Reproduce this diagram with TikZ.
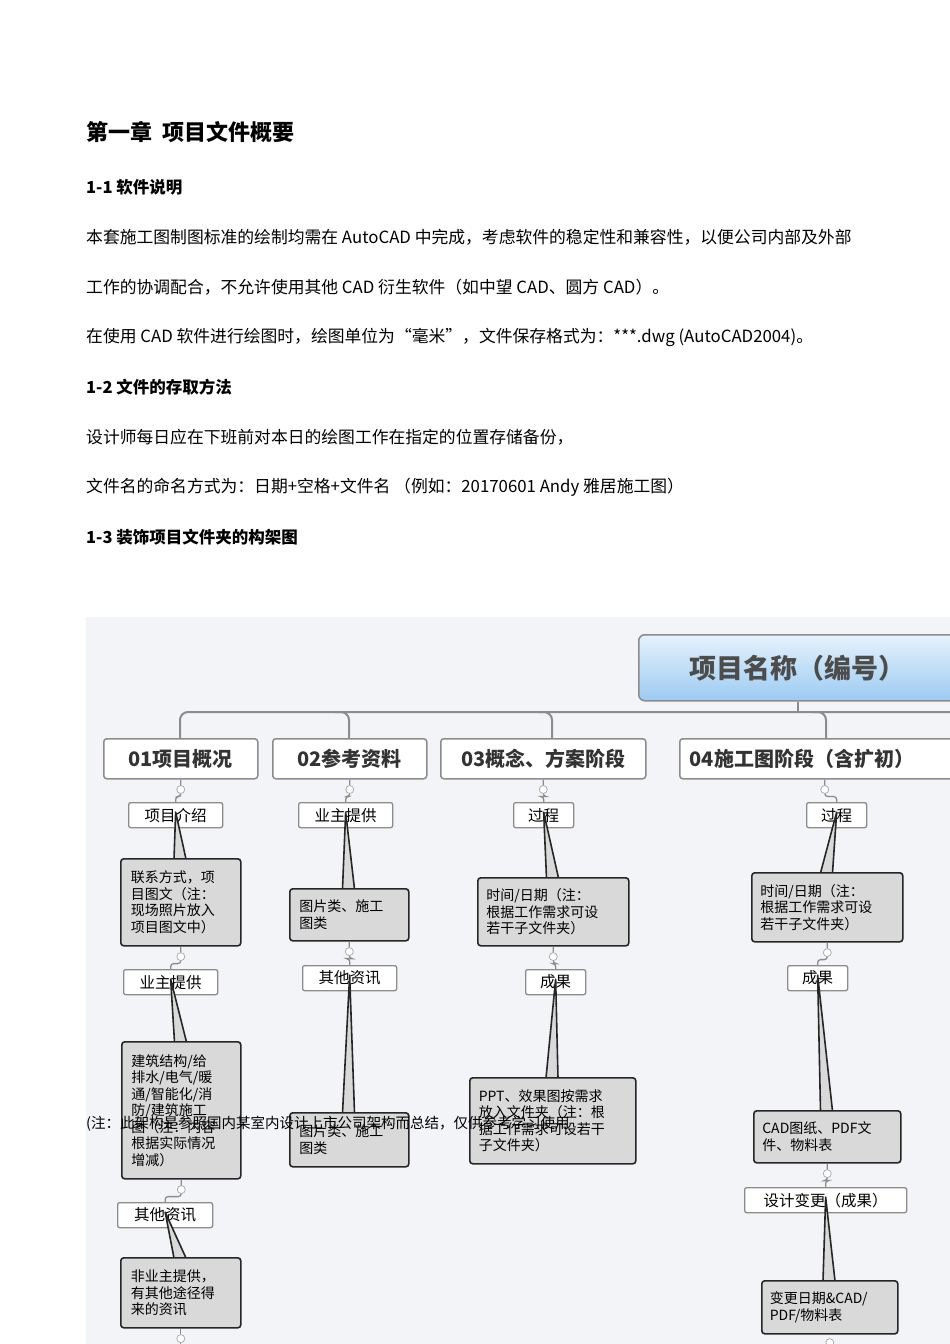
\documentclass[tikz,border=0pt]{standalone}
\usepackage{fontspec}
\setmainfont{Noto Sans CJK SC}
\usetikzlibrary{calc}
\definecolor{bgc}{HTML}{F3F4F8}
\definecolor{gfill}{HTML}{D9D9D9}
\definecolor{lin}{HTML}{8C8C8C}
\definecolor{rootA}{HTML}{E6F2FC}
\definecolor{rootB}{HTML}{9CCAF2}
\tikzset{
 lab/.style={draw=lin,fill=white,line width=1.3pt,rounded corners=2pt,inner sep=0pt,font=\fontsize{15.5}{17}\selectfont},
 gbox/.style={draw=black!85,fill=gfill,line width=1.6pt,rounded corners=3pt,inner sep=0pt,align=left,font=\fontsize{14}{16.5}\selectfont},
 lvl/.style={draw=lin,fill=white,line width=1.5pt,rounded corners=3pt,inner sep=0pt,font=\fontsize{20}{22}\selectfont\bfseries,text=black!80},
 tail/.style={draw=black!85,fill=gfill,line width=1.6pt,line join=round},
 conn/.style={draw=lin,line width=2pt},
 knob/.style={circle,draw=lin!70,fill=white,line width=0.8pt,inner sep=0pt,minimum size=8pt},
 ptext/.style={anchor=west,inner sep=0pt,font=\fontsize{16.8}{18}\selectfont},
}
\newcommand\LB[6]{\node[lab,anchor=north west,minimum width=#4pt-#2pt,minimum height=#5pt-#3pt] (#1) at (#2,#3) {#6};}
\newcommand\LV[6]{\node[lvl,anchor=north west,minimum width=#4pt-#2pt,minimum height=#5pt-#3pt] (#1) at (#2,#3) {#6};}
\newcommand\GB[8]{%
 \path (#3+#5/2,#4) coordinate (#1top);
 \path[tail] ($(#2.center)+(0,-3)$) -- ($(#1top)+(-6,1)$) -- ($(#1top)+(6,1)$) -- cycle;
 \node[gbox,anchor=north west,minimum width=#5pt,minimum height=#6pt,text width=#7pt] (#1) at (#3,#4) {#8};}
\newcommand\KN[3]{\draw[lin,line width=1.3pt,rounded corners=3pt] (#1.south) -- ++(0,17) -| (#2.north); \node[knob] (#3) at ($(#1.south)+(0,10)$) {};}
\begin{document}
\begin{tikzpicture}[x=1pt,y=-1pt]
\useasboundingbox (0,0) rectangle (950,1344);
\fill[white] (0,0) rectangle (950,1344);
\node[ptext,font=\fontsize{22}{24}\selectfont\bfseries] (t0) at (86,132) {第一章\ \ 项目文件概要};
\node[ptext,font=\fontsize{16.5}{18}\selectfont\bfseries] (t1) at (86,187) {1-1 软件说明};
\node[ptext] (t2) at (86,237) {本套施工图制图标准的绘制均需在 AutoCAD 中完成，考虑软件的稳定性和兼容性，以便公司内部及外部};
\node[ptext] (t3) at (86,287) {工作的协调配合，不允许使用其他 CAD 衍生软件（如中望 CAD、圆方 CAD）。};
\node[ptext] (t4) at (86,337) {在使用 CAD 软件进行绘图时，绘图单位为“毫米”，文件保存格式为：***.dwg (AutoCAD2004)。};
\node[ptext,font=\fontsize{16.5}{18}\selectfont\bfseries] (t5) at (86,387) {1-2 文件的存取方法};
\node[ptext] (t6) at (86,437) {设计师每日应在下班前对本日的绘图工作在指定的位置存储备份，};
\node[ptext] (t7) at (86,487) {文件名的命名方式为：日期+空格+文件名 （例如：20170601 Andy 雅居施工图）};
\node[ptext,font=\fontsize{16.5}{18}\selectfont\bfseries] (t8) at (86,537) {1-3 装饰项目文件夹的构架图};
\fill[bgc] (86,617) rectangle (950,1344);
\node[draw=lin,line width=1.5pt,rounded corners=6pt,top color=rootA,bottom color=rootB,minimum width=318pt,minimum height=66pt,anchor=north west,inner sep=0pt,font=\fontsize{27}{29}\selectfont\bfseries,text=black!70] (root) at (638,634) {项目名称（编号）};
\coordinate (hr) at (955,712);
\coordinate (hl) at (180,712);
\draw[conn,rounded corners=8pt] (180,738) -- (hl) -- (hr);
\draw[conn,rounded corners=8pt] (335,712) -| (349,738);
\draw[conn,rounded corners=8pt] (538,712) -| (552,738);
\draw[conn,rounded corners=8pt] (812,712) -| (826,738);
\draw[conn] (root.south) -- (root.south |- hr);
\LV{a}{103}{738}{257}{778}{01项目概况}
\LV{b}{272}{738}{426}{778}{02参考资料}
\LV{c}{440}{738}{645}{778}{03概念、方案阶段}
\node[lvl,anchor=north west,minimum width=290pt,minimum height=40pt,text width=270pt,align=left] (d) at (679,738) {04施工图阶段（含扩初）};
\LB{a1}{128}{802}{222}{827}{项目介绍}
\KN{a}{a1}{ka}
\GB{a2}{a1}{120}{858}{120}{87}{100}{联系方式，项\\目图文（注：\\现场照片放入\\项目图文中）}
\LB{a3}{123}{969}{217}{994}{业主提供}
\KN{a2}{a3}{kb}
\GB{a4}{a3}{121}{1041}{119}{137}{100}{建筑结构/给\\排水/电气/暖\\通/智能化/消\\防/建筑施工\\图（注：内容\\根据实际情况\\增减）}
\LB{a5}{117}{1202}{212}{1227}{其他资讯}
\KN{a4}{a5}{kc}
\GB{a6}{a5}{120}{1257}{120}{70}{100}{非业主提供，\\有其他途径得\\来的资讯}
\node[knob] (kd) at ($(a6.south)+(0,10)$) {};
\draw[lin,line width=1.3pt] (a6.south) -- (kd) -- ++(0,20);
\LB{b1}{298}{802}{392}{827}{业主提供}
\KN{b}{b1}{ke}
\GB{b2}{b1}{289}{888}{119}{52}{100}{图片类、施工\\图类}
\LB{b3}{302}{965}{396}{990}{其他资讯}
\KN{b2}{b3}{kf}
\GB{b4}{b3}{289}{1112}{119}{54}{100}{图片类、施工\\图类}
\LB{c1}{513}{802}{573}{827}{过程}
\KN{c}{c1}{kg}
\GB{c2}{c1}{477}{877}{151}{68}{134}{时间/日期（注：\\根据工作需求可设\\若干子文件夹）}
\LB{c3}{525}{969}{585}{994}{成果}
\KN{c2}{c3}{kh}
\GB{c4}{c3}{469}{1077}{166}{86}{148}{PPT、效果图按需求\\放入文件夹（注：根\\据工作需求可设若干\\子文件夹）}
\LB{d1}{806}{802}{866}{827}{过程}
\KN{d}{d1}{ki}
\GB{d2}{d1}{751}{872}{151}{69}{134}{时间/日期（注：\\根据工作需求可设\\若干子文件夹）}
\LB{d3}{787}{965}{847}{990}{成果}
\KN{d2}{d3}{kj}
\GB{d4}{d3}{753}{1110}{147}{52}{130}{CAD图纸、PDF文\\件、物料表}
\LB{d5}{744}{1187}{906}{1212}{设计变更（成果）}
\KN{d4}{d5}{kk}
\GB{d6}{d5}{761}{1280}{136}{53}{120}{变更日期\&CAD/\\PDF/物料表}
\node[knob] (kl) at ($(d6.south)+(0,8)$) {};
\node[ptext,font=\fontsize{14.5}{16}\selectfont] (note) at (86,1124) {(注：此架构是参照国内某室内设计上市公司架构而总结，仅供参考学习使用};
\end{tikzpicture}
\end{document}
